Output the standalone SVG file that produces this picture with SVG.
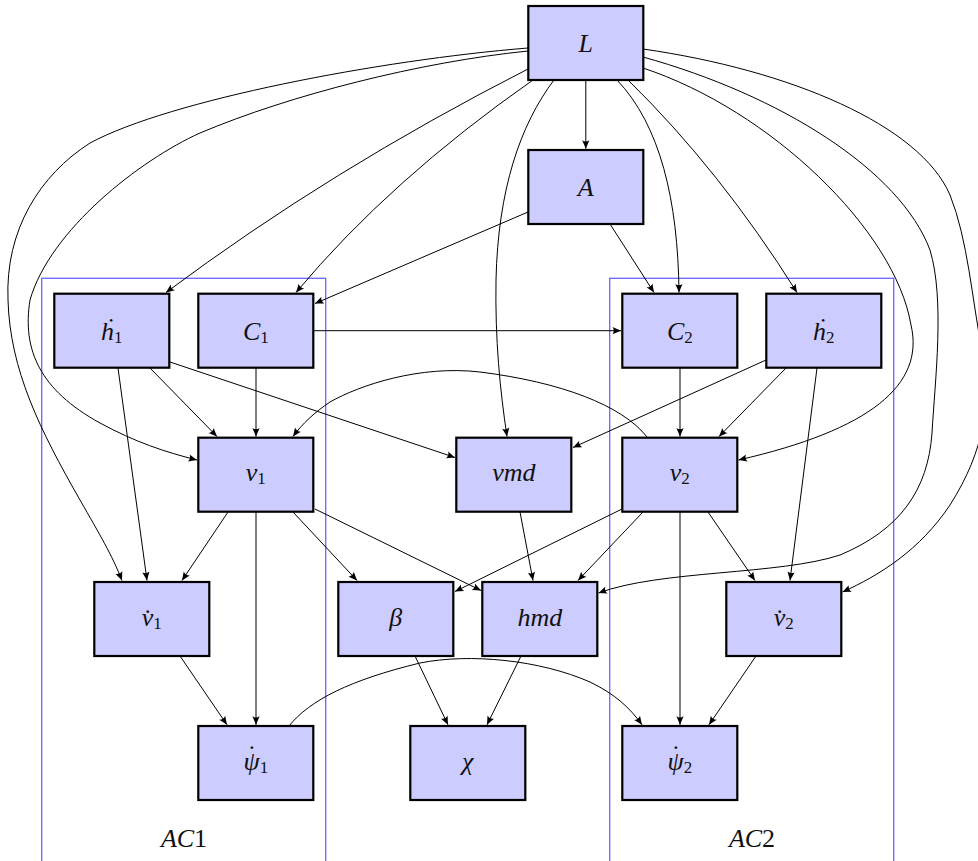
<svg xmlns="http://www.w3.org/2000/svg" width="978" height="861" viewBox="0 0 978 861">
<style>
.nd{fill:#ccccff;stroke:#000;stroke-width:2.2}
.lb{font-family:"Liberation Serif","DejaVu Serif",serif;font-style:italic;font-size:26px;text-anchor:middle;fill:#111}
.sb{font-style:normal;font-size:17px}
.up{font-style:normal}
.dt{font-style:normal}
.grp{fill:none;stroke:#6666ff;stroke-width:1.3}
.e{fill:none;stroke:#000;stroke-width:1;marker-end:url(#arr)}
</style>
<defs>
<marker id="arr" viewBox="-10 -5 12 10" refX="0" refY="0" markerWidth="12" markerHeight="10" markerUnits="userSpaceOnUse" orient="auto">
<path d="M0,0 L-8.5,-3.6 Q-6,0 -8.5,3.6 Z" fill="#000"/>
</marker>
</defs>
<rect width="978" height="861" fill="#fff"/>
<g id="AC1">
<rect class="grp" x="41.7" y="278.3" width="284" height="620"/>
<text class="lb" x="184" y="846.5">AC<tspan class="up">1</tspan></text>
</g>
<g id="AC2">
<rect class="grp" x="609.7" y="278.3" width="284" height="620"/>
<text class="lb" x="752" y="846.5">AC<tspan class="up">2</tspan></text>
</g>
<g id="connectors">
<path class="e" d="M585.8,80 L585.8,148.8"/>
<path class="e" d="M528,69 Q330,170 166,292.5"/>
<path class="e" d="M533,80 Q390,180 296,292.5"/>
<path class="e" d="M528,51 C420,62 290,95 200,133 C140,160 50,230 30,300 C22,350 40,390 100,423 C135,442 165,452 197,460"/>
<path class="e" d="M528,48 C380,60 170,100 90,143 C40,175 5,230 8,300 C10,370 40,430 80,500 C100,535 112,555 122,580.5"/>
<path class="e" d="M554,80 C520,125 498,190 496,280 C495,340 500,390 507,436.5"/>
<path class="e" d="M617,80 C660,125 678,200 679,292.5"/>
<path class="e" d="M628,80 Q720,170 797,292.5"/>
<path class="e" d="M643,68 C770,110 895,230 911,325 C925,385 870,430 738.5,460"/>
<path class="e" d="M643,57 C780,95 900,170 930,250 C945,300 935,380 932,433 C928,490 900,530 840,555 C780,575 660,570 598.5,593"/>
<path class="e" d="M643,49 C790,70 920,125 950,195 C968,240 972,300 982,350 C992,400 985,450 950,505 C920,550 880,575 842.5,592"/>
<path class="e" d="M150,368 L217,436.5"/>
<path class="e" d="M118,368 L147,580.5"/>
<path class="e" d="M170,362 L455,457.5"/>
<path class="e" d="M256,368 L256,436.5"/>
<path class="e" d="M313.3,330.7 L621,330.7"/>
<path class="e" d="M528,212 L315,303.5"/>
<path class="e" d="M610,224 L654,292.5"/>
<path class="e" d="M766,360 L573,447.5"/>
<path class="e" d="M786,368 L719,436.5"/>
<path class="e" d="M817,368 L790,580.5"/>
<path class="e" d="M680,368 L680,436.5"/>
<path class="e" d="M647,437 C622,405 560,382 480,372 C420,365 360,385 330,402 C315,412 302,424 293,436.5"/>
<path class="e" d="M622,509 L455,591.5"/>
<path class="e" d="M643,512 L578,580.5"/>
<path class="e" d="M680,511.5 L680,724.8"/>
<path class="e" d="M708,512 L755,580.5"/>
<path class="e" d="M228,512 L182,580.5"/>
<path class="e" d="M256,511.5 L256,724.8"/>
<path class="e" d="M293,512 L357,580.5"/>
<path class="e" d="M315,509 L481,590.5"/>
<path class="e" d="M520,512 L533,580.5"/>
<path class="e" d="M180,656 L227,724.8"/>
<path class="e" d="M415,656 L448,724.8"/>
<path class="e" d="M521,656 L487,724.8"/>
<path class="e" d="M289,726 C310,700 350,680 420,663 C470,653 540,660 590,682 C615,694 630,708 642,724.8"/>
<path class="e" d="M756,656 L709,724.8"/>
</g>
<g id="L"><rect class="nd" x="528.3" y="6" width="115" height="74"/><text class="lb" x="585.8" y="52">L</text></g>
<g id="A"><rect class="nd" x="528.3" y="150" width="115" height="74"/><text class="lb" x="585.8" y="196">A</text></g>
<g id="hdot1"><rect class="nd" x="54.3" y="293.7" width="115" height="74"/><text class="lb" x="111.8" y="339.5">ḣ<tspan class="sb" dy="3">1</tspan></text></g>
<g id="C1"><rect class="nd" x="198.3" y="293.7" width="115" height="74"/><text class="lb" x="255.8" y="339.5">C<tspan class="sb" dy="3">1</tspan></text></g>
<g id="C2"><rect class="nd" x="622.3" y="293.7" width="115" height="74"/><text class="lb" x="679.8" y="339.5">C<tspan class="sb" dy="3">2</tspan></text></g>
<g id="hdot2"><rect class="nd" x="766.3" y="293.7" width="115" height="74"/><text class="lb" x="823.8" y="339.5">ḣ<tspan class="sb" dy="3">2</tspan></text></g>
<g id="v1"><rect class="nd" x="198.3" y="437.7" width="115" height="74"/><text class="lb" x="255.8" y="481">v<tspan class="sb" dy="3">1</tspan></text></g>
<g id="vmd"><rect class="nd" x="456.3" y="437.7" width="115" height="74"/><text class="lb" x="513.8" y="481">vmd</text></g>
<g id="v2"><rect class="nd" x="622.3" y="437.7" width="115" height="74"/><text class="lb" x="679.8" y="481">v<tspan class="sb" dy="3">2</tspan></text></g>
<g id="vdot1"><rect class="nd" x="94.3" y="582" width="115" height="74"/><text class="lb" x="151.8" y="625.5">v̇<tspan class="sb" dy="3">1</tspan></text></g>
<g id="beta"><rect class="nd" x="338.3" y="582" width="115" height="74"/><text class="lb" x="395.8" y="625.5">β</text></g>
<g id="hmd"><rect class="nd" x="482.3" y="582" width="115" height="74"/><text class="lb" x="539.8" y="625.5">hmd</text></g>
<g id="vdot2"><rect class="nd" x="726.3" y="582" width="115" height="74"/><text class="lb" x="783.8" y="625.5">v̇<tspan class="sb" dy="3">2</tspan></text></g>
<g id="psidot1"><rect class="nd" x="198.3" y="726" width="115" height="74"/><text class="lb" x="255.8" y="770">ψ<tspan class="dt" dx="-12" dy="-7">˙</tspan><tspan class="sb" dx="3.5" dy="10">1</tspan></text></g>
<g id="chi"><rect class="nd" x="410.3" y="726" width="115" height="74"/><text class="lb" x="467.8" y="770">χ</text></g>
<g id="psidot2"><rect class="nd" x="622.3" y="726" width="115" height="74"/><text class="lb" x="679.8" y="770">ψ<tspan class="dt" dx="-12" dy="-7">˙</tspan><tspan class="sb" dx="3.5" dy="10">2</tspan></text></g>
</svg>
